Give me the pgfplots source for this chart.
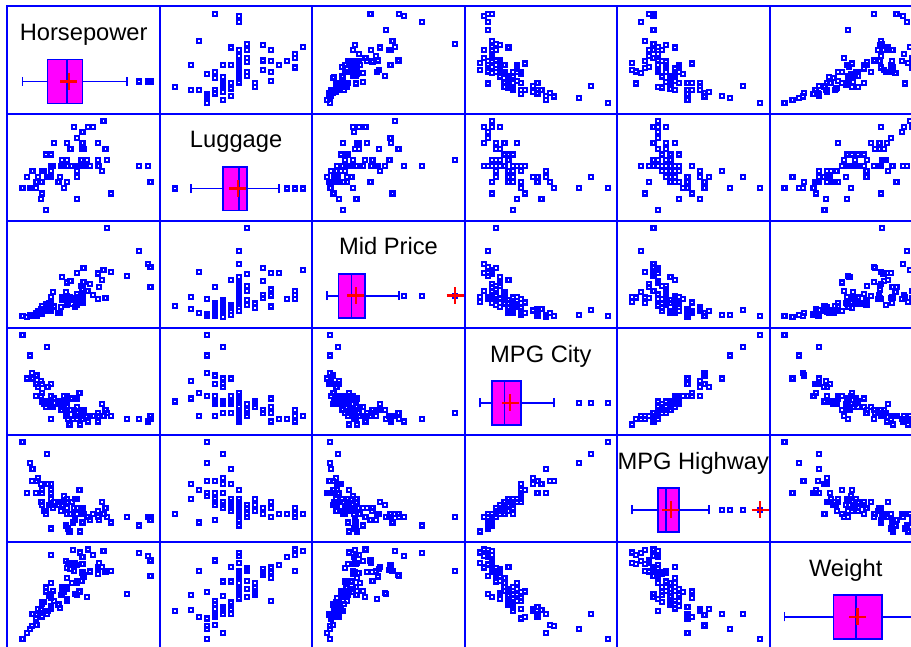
\documentclass[border=0pt]{standalone}
\usepackage{fontspec}
\setmainfont{Liberation Sans}
\usepackage{pgfplots}
\usepackage{pgfplotstable}
\usepgfplotslibrary{groupplots,statistics}
\pgfplotsset{compat=1.18}
\definecolor{pblue}{RGB}{0,0,255}
\definecolor{pmag}{RGB}{255,0,255}
\definecolor{pred}{RGB}{255,0,0}
\pgfplotstableread{
hp lug price mpgc mpgh wt
140 11 15.9 25 31 2705
200 15 33.9 18 25 3560
172 14 29.1 20 26 3375
172 17 37.7 19 26 3405
208 13 30.0 22 30 3640
110 16 15.7 22 31 2880
170 17 20.8 19 28 3470
180 21 23.7 16 25 4105
170 14 26.3 19 27 3495
200 18 34.7 16 25 3620
295 14 40.1 16 25 3935
110 13 13.4 25 36 2490
110 14 11.4 25 34 2785
160 13 15.1 19 28 3240
110 16 15.9 21 29 3195
170 nan 16.3 18 23 3715
165 nan 16.6 15 20 4025
170 20 18.8 17 26 3910
300 nan 38.0 17 25 3380
153 21 18.4 20 28 3515
141 14 15.8 23 28 3085
147 17 29.5 20 26 3570
92 11 9.2 29 33 2270
93 13 11.3 23 29 2670
100 16 13.3 22 27 2970
142 nan 19.0 17 21 3705
100 16 15.6 21 27 3080
300 11 25.8 18 24 3805
92 11 12.2 29 33 2295
214 17 19.3 20 28 3490
63 12 7.4 31 33 1845
127 12 10.1 23 30 2530
96 13 11.3 22 27 2690
105 12 15.9 22 29 2850
115 18 14.0 24 30 2710
145 nan 19.9 15 20 3735
140 18 20.2 21 30 3325
190 21 20.9 18 26 3950
55 10 8.4 46 50 1695
90 8 12.5 30 36 2475
160 8 19.8 24 31 2865
102 12 12.1 42 46 2350
140 14 17.5 24 31 3040
81 11 8.0 29 33 2345
124 11 10.0 22 29 2620
92 9 10.0 26 34 2285
128 14 13.9 20 27 2885
278 14 47.9 17 22 4000
185 14 28.0 18 24 3510
225 9 35.2 18 23 3515
160 19 34.3 17 26 3695
210 22 36.1 18 26 4055
82 11 8.3 29 37 2325
103 12 11.6 28 36 2440
164 14 16.5 26 34 2970
155 nan 19.1 18 24 3735
255 nan 32.5 17 25 2895
130 14 31.9 20 29 2920
217 15 61.9 19 25 3525
100 6 14.1 23 26 2450
140 15 14.9 19 26 3610
92 11 10.3 29 33 2295
202 14 26.1 18 24 3730
110 12 11.8 29 33 2545
150 14 15.7 24 30 3200
151 nan 19.1 17 23 4100
160 14 21.5 21 26 3200
155 14 13.5 24 31 2910
110 16 16.3 23 31 2890
170 nan 19.5 18 23 3715
170 18 20.7 19 28 3470
92 11 14.4 23 30 2640
74 13 9.0 31 41 2350
110 13 11.1 23 31 2575
160 12 17.7 19 28 3240
200 14 18.5 19 27 3450
170 18 24.4 19 28 3495
140 14 28.7 20 26 2775
85 12 11.1 28 38 2495
73 10 8.4 33 37 2045
90 11 10.9 25 30 2490
130 14 19.5 23 30 3085
70 10 8.6 39 43 1965
82 11 9.8 32 37 2055
135 10 18.4 25 32 2950
130 15 18.2 22 29 3030
138 nan 22.7 18 22 3785
81 10 9.1 25 33 2240
109 nan 19.7 17 21 3960
134 14 20.0 21 30 2985
178 15 23.3 18 25 2810
114 14 22.7 21 28 2985
168 15 26.7 20 28 3245
}\cars
\pgfplotsset{
  xhp/.style={xmin=26.27,xmax=318.2}, yhp/.style={ymin=26.13,ymax=320.62},
  xlug/.style={xmin=4.124,xmax=23.188}, ylug/.style={ymin=4.114,ymax=23.347},
  xpr/.style={xmin=1.008,xmax=65.948}, ypr/.style={ymin=0.977,ymax=66.488},
  xmc/.style={xmin=11.364,xmax=48.303}, ymc/.style={ymin=11.347,ymax=48.609},
  xmh/.style={xmin=16.482,xmax=52.228}, ymh/.style={ymin=16.465,ymax=52.525},
  xwt/.style={xmin=1412.4,xmax=4284.0}, ywt/.style={ymin=1411.0,ymax=4307.9},
  diag/.style={ymin=0,ymax=1,clip=false},
  sc/.style={only marks, mark=square, mark size=2pt, draw=pblue, line width=2.2pt,
    mark options={draw=pblue, line width=2.2pt, fill=none}},
  bx/.style={boxplot/draw direction=x, draw=pblue, fill=pmag, line width=1.8pt, solid, mark=none},
  mn/.style={only marks, mark=+, mark size=8.5pt, draw=pred, line width=2.4pt,
    mark options={draw=pred, line width=2.4pt}},
}
\tikzset{ttl/.style={anchor=base, font=\fontsize{23.7}{28}\selectfont, text=black}}
\begin{document}
\begin{tikzpicture}
\begin{groupplot}[
  group style={group size=6 by 6, horizontal sep=0pt, vertical sep=0pt},
  width=152.4pt, height=107.1pt, scale only axis,
  xtick=\empty, ytick=\empty,
  axis line style={pblue, line width=2pt},
]
% ---------- row 1: Horsepower ----------
\nextgroupplot[xhp, diag]
\addplot[bx, boxplot prepared={draw position=0.3, lower whisker=55, lower quartile=103, median=140, upper quartile=170, upper whisker=255, box extend=0.41, whisker extend=0.084}] coordinates {};
\addplot[sc] coordinates {(278,0.3) (295,0.3) (300,0.3) (300,0.3)};
\addplot[mn] coordinates {(143.8,0.3)};
\node[ttl] at (rel axis cs:0.5,0.68) {Horsepower};
\nextgroupplot[xlug, yhp]
\addplot[sc] table[x=lug, y=hp] {\cars};
\nextgroupplot[xpr, yhp]
\addplot[sc] table[x=price, y=hp] {\cars};
\nextgroupplot[xmc, yhp]
\addplot[sc] table[x=mpgc, y=hp] {\cars};
\nextgroupplot[xmh, yhp]
\addplot[sc] table[x=mpgh, y=hp] {\cars};
\nextgroupplot[xwt, yhp]
\addplot[sc] table[x=wt, y=hp] {\cars};
% ---------- row 2: Luggage ----------
\nextgroupplot[xhp, ylug]
\addplot[sc] table[x=hp, y=lug] {\cars};
\nextgroupplot[xlug, diag]
\addplot[bx, boxplot prepared={draw position=0.3, lower whisker=8, lower quartile=12, median=14, upper quartile=15, upper whisker=19, box extend=0.41, whisker extend=0.084}] coordinates {};
\addplot[sc] coordinates {(6,0.3) (20,0.3) (21,0.3) (22,0.3)};
\addplot[mn] coordinates {(13.89,0.3)};
\node[ttl] at (rel axis cs:0.5,0.68) {Luggage};
\nextgroupplot[xpr, ylug]
\addplot[sc] table[x=price, y=lug] {\cars};
\nextgroupplot[xmc, ylug]
\addplot[sc] table[x=mpgc, y=lug] {\cars};
\nextgroupplot[xmh, ylug]
\addplot[sc] table[x=mpgh, y=lug] {\cars};
\nextgroupplot[xwt, ylug]
\addplot[sc] table[x=wt, y=lug] {\cars};
% ---------- row 3: Mid Price ----------
\nextgroupplot[xhp, ypr]
\addplot[sc] table[x=hp, y=price] {\cars};
\nextgroupplot[xlug, ypr]
\addplot[sc] table[x=lug, y=price] {\cars};
\nextgroupplot[xpr, diag]
\addplot[bx, boxplot prepared={draw position=0.3, lower whisker=7.4, lower quartile=12.2, median=17.7, upper quartile=23.3, upper whisker=38.0, box extend=0.41, whisker extend=0.084}] coordinates {};
\addplot[sc] coordinates {(40.1,0.3) (47.9,0.3) (61.9,0.3)};
\addplot[mn] coordinates {(19.51,0.3) (61.9,0.3)};
\node[ttl] at (rel axis cs:0.5,0.68) {Mid Price};
\nextgroupplot[xmc, ypr]
\addplot[sc] table[x=mpgc, y=price] {\cars};
\nextgroupplot[xmh, ypr]
\addplot[sc] table[x=mpgh, y=price] {\cars};
\nextgroupplot[xwt, ypr]
\addplot[sc] table[x=wt, y=price] {\cars};
% ---------- row 4: MPG City ----------
\nextgroupplot[xhp, ymc]
\addplot[sc] table[x=hp, y=mpgc] {\cars};
\nextgroupplot[xlug, ymc]
\addplot[sc] table[x=lug, y=mpgc] {\cars};
\nextgroupplot[xpr, ymc]
\addplot[sc] table[x=price, y=mpgc] {\cars};
\nextgroupplot[xmc, diag]
\addplot[bx, boxplot prepared={draw position=0.3, lower whisker=15, lower quartile=18, median=21, upper quartile=25, upper whisker=33, box extend=0.41, whisker extend=0.084}] coordinates {};
\addplot[sc] coordinates {(39,0.3) (42,0.3) (46,0.3)};
\addplot[mn] coordinates {(22.37,0.3)};
\node[ttl] at (rel axis cs:0.5,0.68) {MPG City};
\nextgroupplot[xmh, ymc]
\addplot[sc] table[x=mpgh, y=mpgc] {\cars};
\nextgroupplot[xwt, ymc]
\addplot[sc] table[x=wt, y=mpgc] {\cars};
% ---------- row 5: MPG Highway ----------
\nextgroupplot[xhp, ymh]
\addplot[sc] table[x=hp, y=mpgh] {\cars};
\nextgroupplot[xlug, ymh]
\addplot[sc] table[x=lug, y=mpgh] {\cars};
\nextgroupplot[xpr, ymh]
\addplot[sc] table[x=price, y=mpgh] {\cars};
\nextgroupplot[xmc, ymh]
\addplot[sc] table[x=mpgc, y=mpgh] {\cars};
\nextgroupplot[xmh, diag]
\addplot[bx, boxplot prepared={draw position=0.3, lower whisker=20, lower quartile=26, median=28, upper quartile=31, upper whisker=38, box extend=0.41, whisker extend=0.084}] coordinates {};
\addplot[sc] coordinates {(41,0.3) (43,0.3) (46,0.3) (50,0.3)};
\addplot[mn] coordinates {(29.09,0.3) (50,0.3)};
\node[ttl] at (rel axis cs:0.5,0.68) {MPG Highway};
\nextgroupplot[xwt, ymh]
\addplot[sc] table[x=wt, y=mpgh] {\cars};
% ---------- row 6: Weight ----------
\nextgroupplot[xhp, ywt]
\addplot[sc] table[x=hp, y=wt] {\cars};
\nextgroupplot[xlug, ywt]
\addplot[sc] table[x=lug, y=wt] {\cars};
\nextgroupplot[xpr, ywt]
\addplot[sc] table[x=price, y=wt] {\cars};
\nextgroupplot[xmc, ywt]
\addplot[sc] table[x=mpgc, y=wt] {\cars};
\nextgroupplot[xmh, ywt]
\addplot[sc] table[x=mpgh, y=wt] {\cars};
\nextgroupplot[xwt, diag]
\addplot[bx, boxplot prepared={draw position=0.3, lower whisker=1695, lower quartile=2620, median=3040, upper quartile=3525, upper whisker=4105, box extend=0.41, whisker extend=0.084}] coordinates {};
\addplot[mn] coordinates {(3073,0.3)};
\node[ttl] at (rel axis cs:0.5,0.68) {Weight};
\end{groupplot}
\pgfresetboundingbox
\path[use as bounding box] (group c1r1.north west) ++(-7.5pt,6.5pt) rectangle ++(911pt,-647pt);
\end{tikzpicture}
\end{document}
